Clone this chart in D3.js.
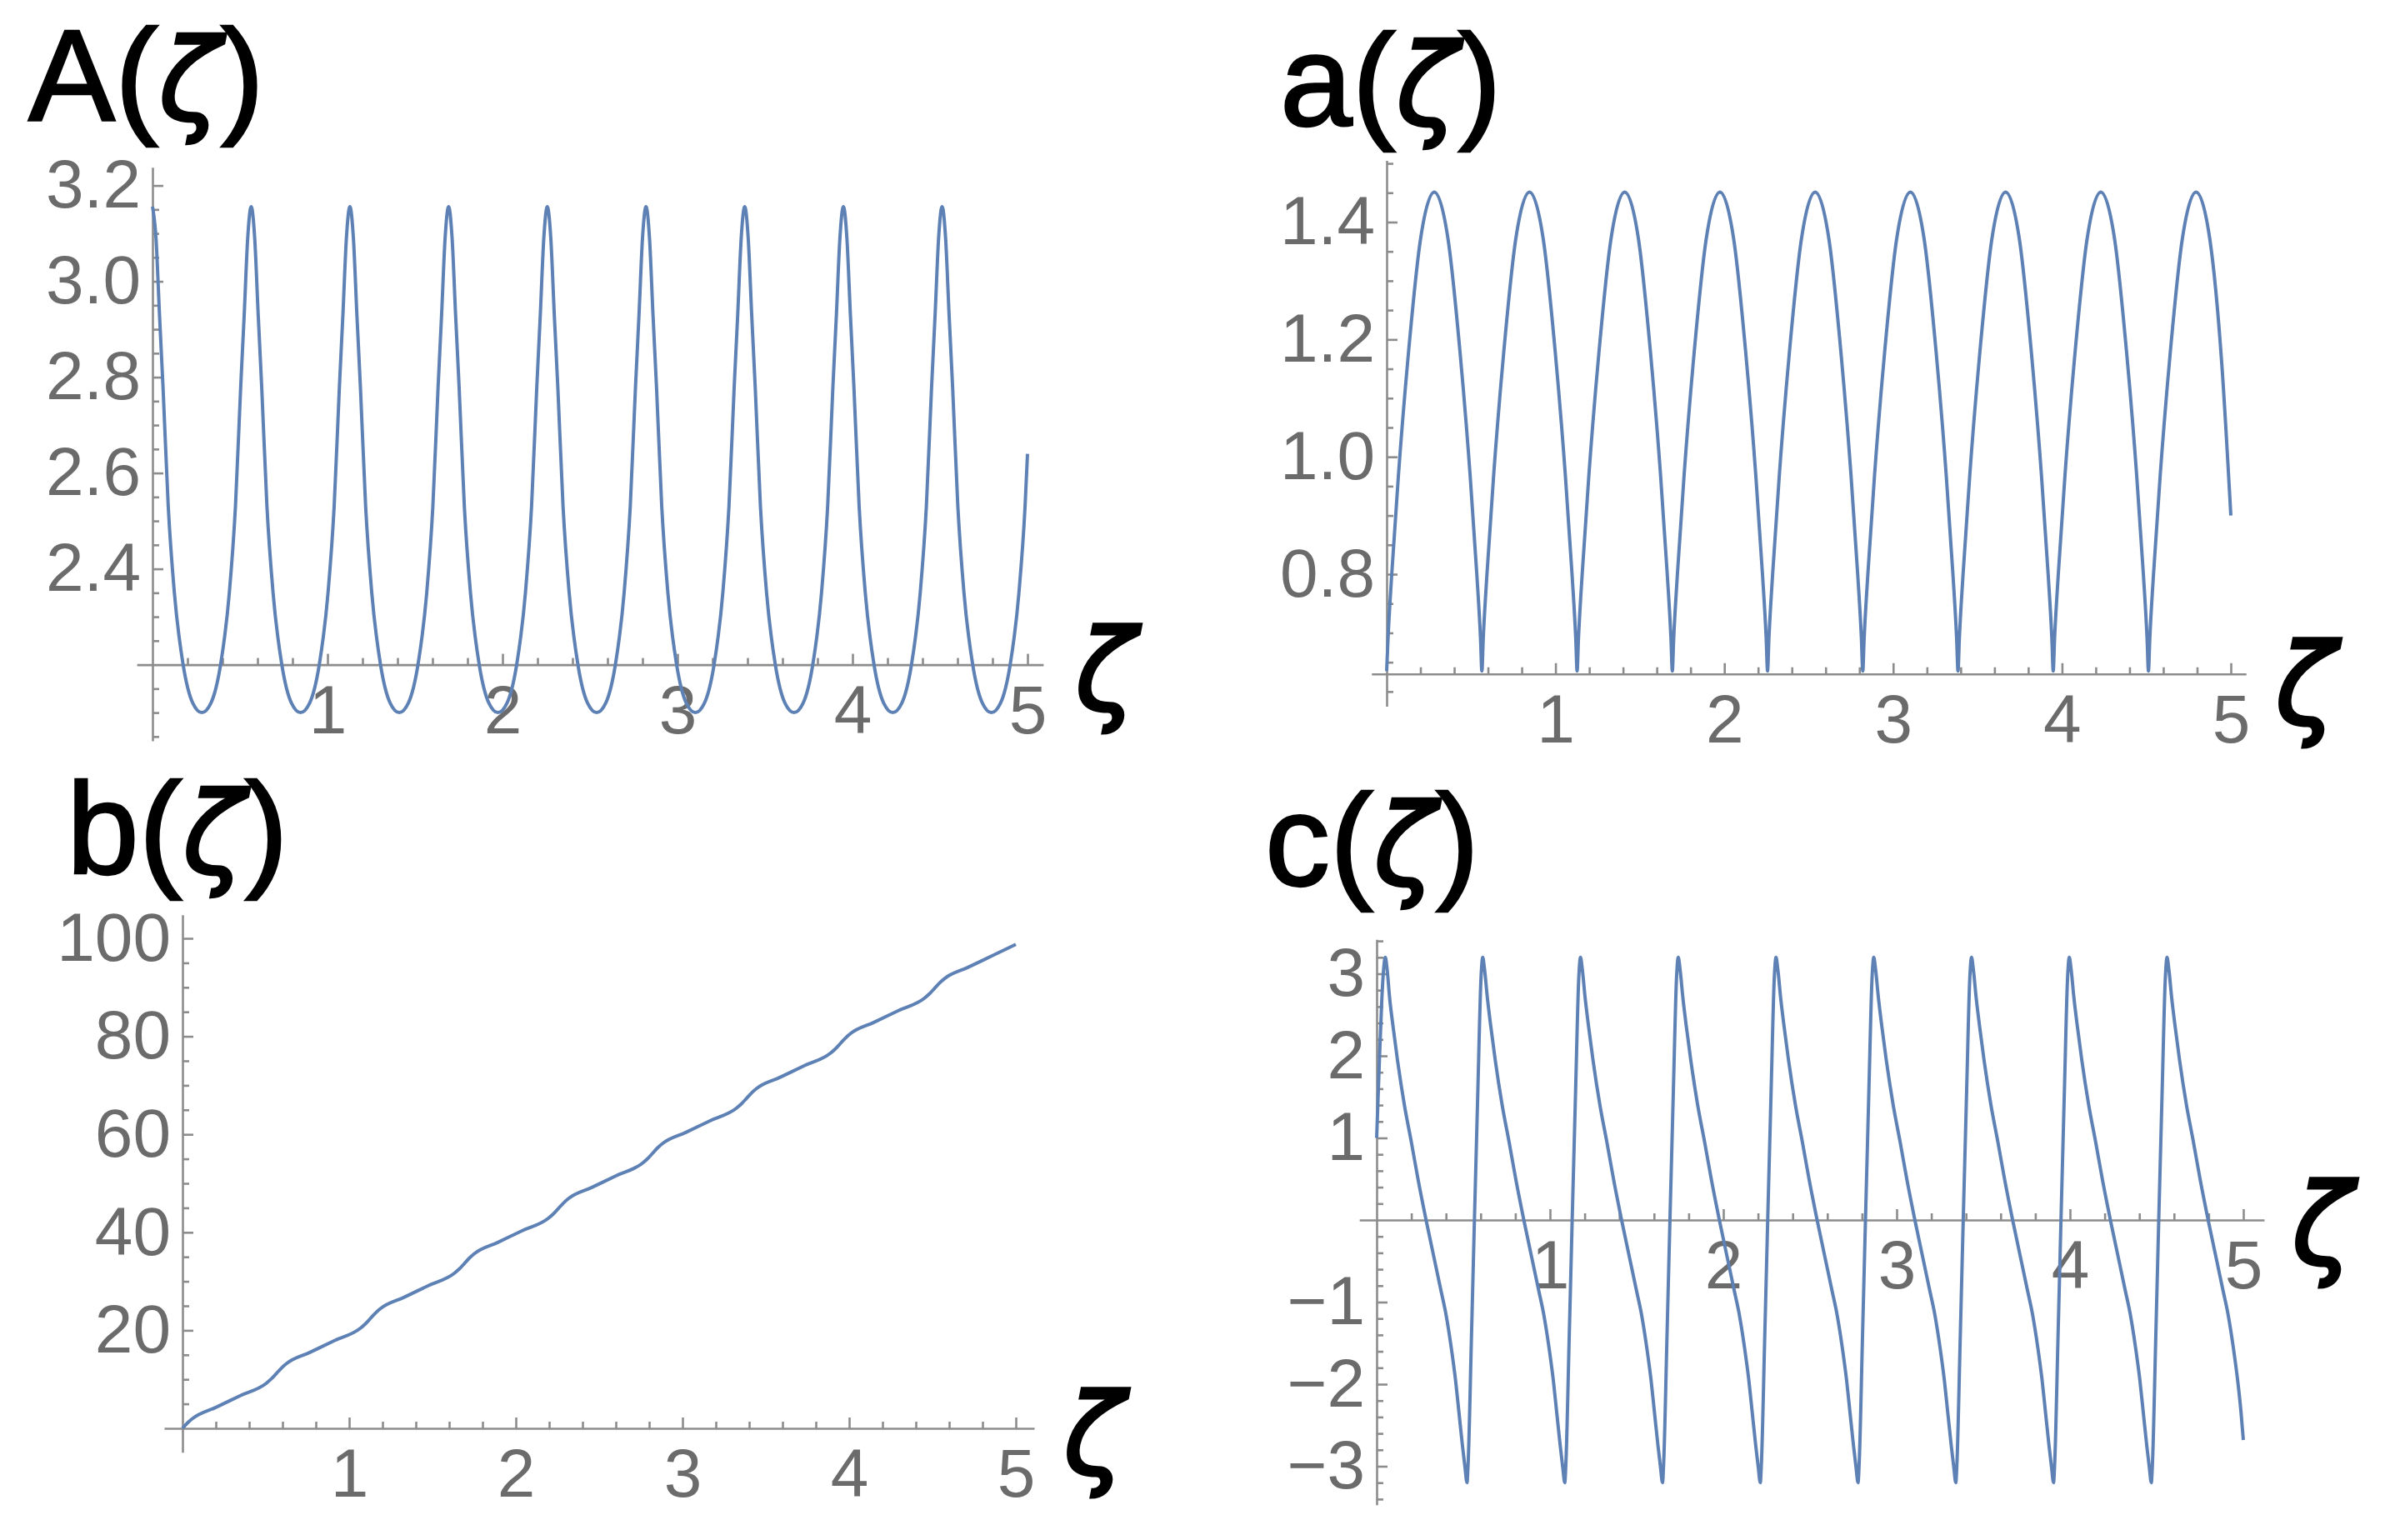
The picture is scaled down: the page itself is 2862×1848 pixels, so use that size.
<!DOCTYPE html>
<html><head><meta charset="utf-8">
<script src="https://cdn.jsdelivr.net/npm/d3@7"></script>
<style>
html,body{margin:0;padding:0;background:#fff;}
svg{display:block;}
</style></head>
<body>
<svg id="chart" width="2862" height="1848"></svg>
<script>
// ---------------- data ----------------
// A(zeta)
const zetaBigA = [
 0,0.02,0.04,0.06,0.09,0.125,0.175,0.23,0.282,0.334,0.389,0.439,0.474,0.504,0.524,0.544,
 0.564,0.584,0.604,0.624,0.654,0.689,0.739,0.794,0.846,0.898,0.953,1.003,1.038,1.068,1.088,1.108,
 1.128,1.148,1.168,1.188,1.218,1.253,1.303,1.358,1.41,1.462,1.517,1.567,1.602,1.632,1.652,1.672,
 1.692,1.712,1.732,1.752,1.782,1.817,1.867,1.922,1.974,2.026,2.081,2.131,2.166,2.196,2.216,2.236,
 2.256,2.276,2.296,2.316,2.346,2.381,2.431,2.486,2.538,2.59,2.645,2.695,2.73,2.76,2.78,2.8,
 2.82,2.84,2.86,2.88,2.91,2.945,2.995,3.05,3.102,3.154,3.209,3.259,3.294,3.324,3.344,3.364,
 3.384,3.404,3.424,3.444,3.474,3.509,3.559,3.614,3.666,3.718,3.773,3.823,3.858,3.888,3.908,3.928,
 3.948,3.968,3.988,4.008,4.038,4.073,4.123,4.178,4.23,4.282,4.337,4.387,4.422,4.452,4.472,4.492,
 4.512,4.532,4.552,4.572,4.602,4.637,4.687,4.742,4.794,4.846,4.901,4.951,4.986,5.0];
const valuesBigA = [
 3.156,3.09,2.93,2.78,2.53,2.35,2.2,2.12,2.1,2.12,2.2,2.35,2.53,2.78,2.93,3.09,
 3.156,3.09,2.93,2.78,2.53,2.35,2.2,2.12,2.1,2.12,2.2,2.35,2.53,2.78,2.93,3.09,
 3.156,3.09,2.93,2.78,2.53,2.35,2.2,2.12,2.1,2.12,2.2,2.35,2.53,2.78,2.93,3.09,
 3.156,3.09,2.93,2.78,2.53,2.35,2.2,2.12,2.1,2.12,2.2,2.35,2.53,2.78,2.93,3.09,
 3.156,3.09,2.93,2.78,2.53,2.35,2.2,2.12,2.1,2.12,2.2,2.35,2.53,2.78,2.93,3.09,
 3.156,3.09,2.93,2.78,2.53,2.35,2.2,2.12,2.1,2.12,2.2,2.35,2.53,2.78,2.93,3.09,
 3.156,3.09,2.93,2.78,2.53,2.35,2.2,2.12,2.1,2.12,2.2,2.35,2.53,2.78,2.93,3.09,
 3.156,3.09,2.93,2.78,2.53,2.35,2.2,2.12,2.1,2.12,2.2,2.35,2.53,2.78,2.93,3.09,
 3.156,3.09,2.93,2.78,2.53,2.35,2.2,2.12,2.1,2.12,2.2,2.35,2.53,2.64];

// a(zeta)
const zetaSmallA = [
 0,0.008,0.03,0.07,0.13,0.2,0.282,0.364,0.434,0.494,0.534,0.556,
 0.564,0.572,0.594,0.634,0.694,0.764,0.846,0.928,0.998,1.058,1.098,1.12,
 1.128,1.136,1.158,1.198,1.258,1.328,1.41,1.492,1.562,1.622,1.662,1.684,
 1.692,1.7,1.722,1.762,1.822,1.892,1.974,2.056,2.126,2.186,2.226,2.248,
 2.256,2.264,2.286,2.326,2.386,2.456,2.538,2.62,2.69,2.75,2.79,2.812,
 2.82,2.828,2.85,2.89,2.95,3.02,3.102,3.184,3.254,3.314,3.354,3.376,
 3.384,3.392,3.414,3.454,3.514,3.584,3.666,3.748,3.818,3.878,3.918,3.94,
 3.948,3.956,3.978,4.018,4.078,4.148,4.23,4.312,4.382,4.442,4.482,4.504,
 4.512,4.52,4.542,4.582,4.642,4.712,4.794,4.876,4.946,5.0];
const valuesSmallA = [
 0.635,0.69,0.8,0.97,1.18,1.37,1.451,1.37,1.18,0.97,0.8,0.69,
 0.635,0.69,0.8,0.97,1.18,1.37,1.451,1.37,1.18,0.97,0.8,0.69,
 0.635,0.69,0.8,0.97,1.18,1.37,1.451,1.37,1.18,0.97,0.8,0.69,
 0.635,0.69,0.8,0.97,1.18,1.37,1.451,1.37,1.18,0.97,0.8,0.69,
 0.635,0.69,0.8,0.97,1.18,1.37,1.451,1.37,1.18,0.97,0.8,0.69,
 0.635,0.69,0.8,0.97,1.18,1.37,1.451,1.37,1.18,0.97,0.8,0.69,
 0.635,0.69,0.8,0.97,1.18,1.37,1.451,1.37,1.18,0.97,0.8,0.69,
 0.635,0.69,0.8,0.97,1.18,1.37,1.451,1.37,1.18,0.97,0.8,0.69,
 0.635,0.69,0.8,0.97,1.18,1.37,1.451,1.37,1.16,0.9];

// b(zeta)
const zetaB = [
 0,0.03,0.06,0.2,0.35,
 0.504,0.534,0.564,0.594,0.624,0.764,0.914,
 1.068,1.098,1.128,1.158,1.188,1.328,1.478,
 1.632,1.662,1.692,1.722,1.752,1.892,2.042,
 2.196,2.226,2.256,2.286,2.316,2.456,2.606,
 2.76,2.79,2.82,2.85,2.88,3.02,3.17,
 3.324,3.354,3.384,3.414,3.444,3.584,3.734,
 3.888,3.918,3.948,3.978,4.008,4.148,4.298,
 4.452,4.482,4.512,4.542,4.572,4.712,4.862,5.0];
const valuesB = [
 0,1.10,1.99,4.28,6.72,
 9.23,10.13,11.22,12.32,13.22,15.50,17.94,
 20.45,21.35,22.45,23.54,24.44,26.72,29.17,
 31.68,32.57,33.67,34.77,35.67,37.95,40.39,
 42.90,43.80,44.89,45.99,46.89,49.17,51.61,
 54.12,55.02,56.12,57.22,58.11,60.39,62.84,
 65.35,66.24,67.34,68.44,69.34,71.62,74.06,
 76.57,77.47,78.57,79.66,80.56,82.84,85.29,
 87.80,88.69,89.79,90.89,91.78,94.06,96.51,98.76];

// c(zeta)
const zetaC = [
 0,0.015,0.03,0.042,0.05,0.06,0.075,0.095,0.12,0.16,0.2,0.24,0.285,0.33,0.37,0.4,0.43,0.455,0.475,0.495,0.51,
 0.521,0.528,0.546,0.564,0.584,0.602,0.612,0.622,0.639,0.659,0.684,0.724,0.764,0.804,0.849,0.894,0.934,0.964,0.994,1.019,1.039,1.059,1.074,
 1.085,1.092,1.11,1.128,1.148,1.166,1.176,1.186,1.203,1.223,1.248,1.288,1.328,1.368,1.413,1.458,1.498,1.528,1.558,1.583,1.603,1.623,1.638,
 1.649,1.656,1.674,1.692,1.712,1.73,1.74,1.75,1.767,1.787,1.812,1.852,1.892,1.932,1.977,2.022,2.062,2.092,2.122,2.147,2.167,2.187,2.202,
 2.213,2.22,2.238,2.256,2.276,2.294,2.304,2.314,2.331,2.351,2.376,2.416,2.456,2.496,2.541,2.586,2.626,2.656,2.686,2.711,2.731,2.751,2.766,
 2.777,2.784,2.802,2.82,2.84,2.858,2.868,2.878,2.895,2.915,2.94,2.98,3.02,3.06,3.105,3.15,3.19,3.22,3.25,3.275,3.295,3.315,3.33,
 3.341,3.348,3.366,3.384,3.404,3.422,3.432,3.442,3.459,3.479,3.504,3.544,3.584,3.624,3.669,3.714,3.754,3.784,3.814,3.839,3.859,3.879,3.894,
 3.905,3.912,3.93,3.948,3.968,3.986,3.996,4.006,4.023,4.043,4.068,4.108,4.148,4.188,4.233,4.278,4.318,4.348,4.378,4.403,4.423,4.443,4.458,
 4.469,4.476,4.494,4.512,4.532,4.55,4.56,4.57,4.587,4.607,4.632,4.672,4.712,4.752,4.797,4.842,4.882,4.912,4.942,4.967,4.987,5.0];
const valuesC = [
 1.0,1.9,2.7,3.1,3.2,3.06,2.7,2.35,1.95,1.4,0.95,0.48,0,-0.45,-0.85,-1.15,-1.55,-1.95,-2.35,-2.75,-3.02,
 -3.2,-2.95,-1.5,0,1.6,2.95,3.2,3.06,2.7,2.35,1.95,1.4,0.95,0.48,0,-0.45,-0.85,-1.15,-1.55,-1.95,-2.35,-2.75,-3.02,
 -3.2,-2.95,-1.5,0,1.6,2.95,3.2,3.06,2.7,2.35,1.95,1.4,0.95,0.48,0,-0.45,-0.85,-1.15,-1.55,-1.95,-2.35,-2.75,-3.02,
 -3.2,-2.95,-1.5,0,1.6,2.95,3.2,3.06,2.7,2.35,1.95,1.4,0.95,0.48,0,-0.45,-0.85,-1.15,-1.55,-1.95,-2.35,-2.75,-3.02,
 -3.2,-2.95,-1.5,0,1.6,2.95,3.2,3.06,2.7,2.35,1.95,1.4,0.95,0.48,0,-0.45,-0.85,-1.15,-1.55,-1.95,-2.35,-2.75,-3.02,
 -3.2,-2.95,-1.5,0,1.6,2.95,3.2,3.06,2.7,2.35,1.95,1.4,0.95,0.48,0,-0.45,-0.85,-1.15,-1.55,-1.95,-2.35,-2.75,-3.02,
 -3.2,-2.95,-1.5,0,1.6,2.95,3.2,3.06,2.7,2.35,1.95,1.4,0.95,0.48,0,-0.45,-0.85,-1.15,-1.55,-1.95,-2.35,-2.75,-3.02,
 -3.2,-2.95,-1.5,0,1.6,2.95,3.2,3.06,2.7,2.35,1.95,1.4,0.95,0.48,0,-0.45,-0.85,-1.15,-1.55,-1.95,-2.35,-2.75,-3.02,
 -3.2,-2.95,-1.5,0,1.6,2.95,3.2,3.06,2.7,2.35,1.95,1.4,0.95,0.48,0,-0.45,-0.85,-1.15,-1.55,-1.95,-2.35,-2.68];

// tick values and labels
const ticksZeta = [1, 2, 3, 4, 5];
const labelsZeta = ["1", "2", "3", "4", "5"];
const ticksBigA = [2.4, 2.6, 2.8, 3.0, 3.2];
const labelsBigA = ["2.4", "2.6", "2.8", "3.0", "3.2"];
const ticksSmallA = [0.8, 1.0, 1.2, 1.4];
const labelsSmallA = ["0.8", "1.0", "1.2", "1.4"];
const ticksB = [20, 40, 60, 80, 100];
const labelsB = ["20", "40", "60", "80", "100"];
const ticksC = [-3, -2, -1, 1, 2, 3];
const labelsC = ["\u22123", "\u22122", "\u22121", "1", "2", "3"];
const titles = ["A", "a", "b", "c"];

// ---------------- drawing ----------------
const svg = d3.select("#chart");
const CURVE = "#5E81B5", AXIS = "#8c8c8c", LABEL = "#6b6b6b";
const TICKFONT = "'Liberation Sans', Arial, sans-serif";
const ZFONT = "'DejaVu Sans', sans-serif";

const panels = [
  {title: titles[0], zeta: zetaBigA, vals: valuesBigA, yt: ticksBigA, yl: labelsBigA, minorY: 0.05,
   x0: 183, xu: 210, xExt: [-0.09, 5.09], yRefV: 3.2, yRefP: 222.6, yu: 575, yExt: [2.041, 3.238], axisY: 2.2,
   tX: 34, tY: 144, zX: 1290, zDy: 8},
  {title: titles[1], zeta: zetaSmallA, vals: valuesSmallA, yt: ticksSmallA, yl: labelsSmallA, minorY: 0.05,
   x0: 1664, xu: 202.6, xExt: [-0.09, 5.09], yRefV: 1.4, yRefP: 266.5, yu: 704.2, yExt: [0.575, 1.505], axisY: 0.63,
   tX: 1536, tY: 150, zX: 2730, zDy: 14},
  {title: titles[2], zeta: zetaB, vals: valuesB, yt: ticksB, yl: labelsB, minorY: 5,
   x0: 219, xu: 200, xExt: [-0.11, 5.11], yRefV: 0, yRefP: 1714, yu: 5.88, yExt: [-4.9, 104.8], axisY: 0,
   tX: 80, tY: 1048, zX: 1276, zDy: 8},
  {title: titles[3], zeta: zetaC, vals: valuesC, yt: ticksC, yl: labelsC, minorY: 0.2,
   x0: 1652, xu: 208, xExt: [-0.1, 5.12], yRefV: 0, yRefP: 1464, yu: 98.5, yExt: [-3.47, 3.42], axisY: 0,
   tX: 1518, tY: 1062, zX: 2750, zDy: 6}
];

function styleAxis(g, showDomain) {
  g.select(".domain").attr("stroke", AXIS).attr("stroke-width", 2.6).style("display", showDomain ? null : "none");
  g.selectAll(".tick line").attr("stroke", AXIS).attr("stroke-width", 2.6);
  g.selectAll(".tick text").attr("fill", LABEL).attr("font-size", 82).attr("font-family", TICKFONT);
}

panels.forEach(p => {
  const x = d3.scaleLinear().domain(p.xExt).range(p.xExt.map(v => p.x0 + v * p.xu));
  const y = d3.scaleLinear().domain(p.yExt).range(p.yExt.map(v => p.yRefP - (v - p.yRefV) * p.yu));
  const g = svg.append("g");
  const ay = y(p.axisY);
  const ax = x(0);

  // minor ticks on x
  const minorX = d3.range(1, 26).map(i => i * 0.2).filter(v => Math.abs(v - Math.round(v)) > 1e-6 && v <= p.xExt[1]);
  g.append("g").attr("transform", `translate(0,${ay})`)
    .call(d3.axisBottom(x).tickValues(minorX).tickFormat(() => "").tickSize(-8).tickSizeOuter(0))
    .call(s => styleAxis(s, false));
  // major x
  g.append("g").attr("transform", `translate(0,${ay})`)
    .call(d3.axisBottom(x).tickValues(ticksZeta).tickFormat((d, i) => labelsZeta[i]).tickSize(-13).tickSizeOuter(0).tickPadding(24))
    .call(s => styleAxis(s, true));

  // minor ticks on y
  const nMin = Math.ceil(p.yExt[0] / p.minorY - 1e-9), nMax = Math.floor(p.yExt[1] / p.minorY + 1e-9);
  const minorYv = d3.range(nMin, nMax + 1).map(i => +(i * p.minorY).toFixed(6))
    .filter(v => !p.yt.some(t => Math.abs(t - v) < 1e-6) && Math.abs(v - p.axisY) > 1e-6);
  g.append("g").attr("transform", `translate(${ax},0)`)
    .call(d3.axisLeft(y).tickValues(minorYv).tickFormat(() => "").tickSize(-8).tickSizeOuter(0))
    .call(s => styleAxis(s, false));
  g.append("g").attr("transform", `translate(${ax},0)`)
    .call(d3.axisLeft(y).tickValues(p.yt).tickFormat((d, i) => p.yl[i]).tickSize(-13).tickSizeOuter(0).tickPadding(14))
    .call(s => styleAxis(s, true));

  // curve
  const pts = p.zeta.map((z, i) => [z, p.vals[i]]);
  g.append("path").datum(pts)
    .attr("fill", "none").attr("stroke", CURVE).attr("stroke-width", 4).attr("stroke-linejoin", "round")
    .attr("d", d3.line().x(d => x(d[0])).y(d => y(d[1])).curve(d3.curveMonotoneX));

  // title
  const t = svg.append("text").attr("x", p.tX).attr("y", p.tY)
    .attr("font-family", "'Liberation Sans', Arial, sans-serif").attr("font-size", 156).attr("fill", "#000")
    .attr("stroke", "#000").attr("stroke-width", 2.5);
  t.append("tspan").text(p.title + "(");
  t.append("tspan").attr("font-family", ZFONT).attr("font-style", "italic").attr("font-size", 138).text("\u03B6");
  t.append("tspan").text(")");

  // axis label
  svg.append("text").attr("x", p.zX).attr("y", ay + p.zDy).attr("dominant-baseline", "central")
    .attr("font-family", ZFONT).attr("font-style", "italic").attr("font-size", 135)
    .attr("fill", "#000").attr("stroke", "#000").attr("stroke-width", 3).text("\u03B6");
});
</script>
</body></html>
